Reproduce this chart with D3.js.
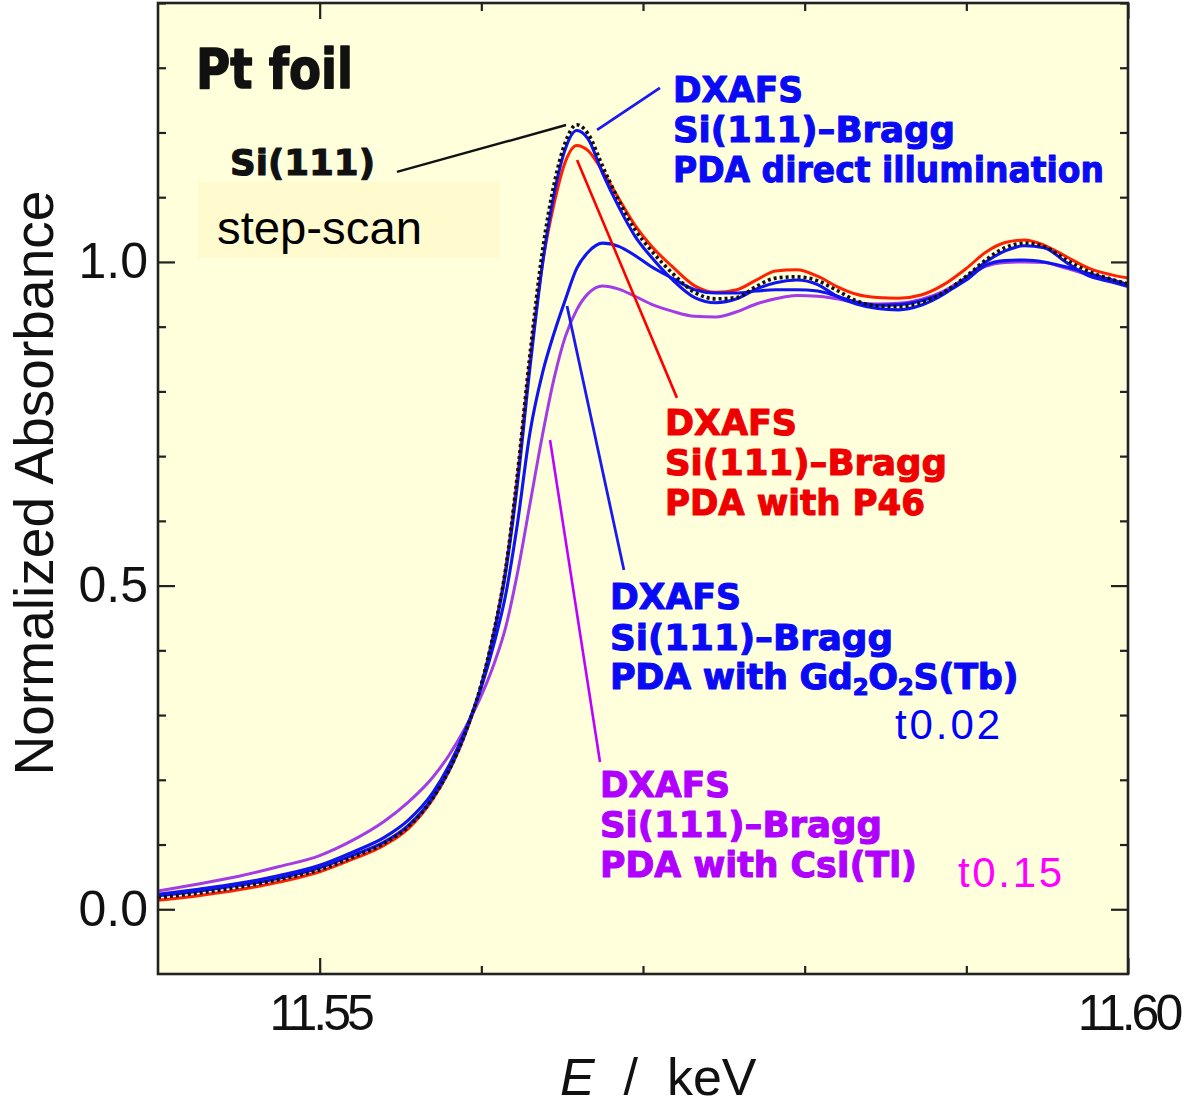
<!DOCTYPE html>
<html>
<head>
<meta charset="utf-8">
<script src="https://cdn.jsdelivr.net/npm/d3@7"></script>
<style>
  body { margin: 0; background: #fff; }
  svg { display: block; }
</style>
</head>
<body>
<svg id="chart" width="1191" height="1111"></svg>
<script>
// Photon energy grid (keV)
const energy = [11.5400, 11.5425, 11.5450, 11.5475, 11.5500, 11.5520, 11.5540, 11.5555,
  11.5570, 11.5580, 11.5590, 11.5600, 11.5608, 11.5615, 11.5622, 11.5630, 11.5638, 11.5645,
  11.5652, 11.5659, 11.5666, 11.5675, 11.5685, 11.5695, 11.5705, 11.5718, 11.5732, 11.5745,
  11.5758, 11.5770, 11.5782, 11.5795, 11.5808, 11.5820, 11.5832, 11.5845, 11.5858, 11.5872,
  11.5886, 11.5900, 11.5912, 11.5924, 11.5936, 11.5948, 11.5962, 11.5976, 11.5990, 11.6000];

// Normalized absorbance, Pt L3 edge
const stepScan = [0.018, 0.025, 0.034, 0.046, 0.061, 0.080, 0.102, 0.128, 0.172, 0.215, 0.272, 0.348,
  0.432, 0.525, 0.665, 0.855, 1.020, 1.120, 1.185, 1.212, 1.198, 1.148, 1.095, 1.050, 1.018, 0.983,
  0.953, 0.943, 0.945, 0.962, 0.975, 0.977, 0.971, 0.956, 0.940, 0.932, 0.931, 0.937, 0.953, 0.978,
  1.003, 1.022, 1.029, 1.024, 1.003, 0.985, 0.973, 0.966];

const dxafsDirect = [0.021, 0.028, 0.037, 0.048, 0.064, 0.083, 0.104, 0.130, 0.173, 0.215, 0.272, 0.346,
  0.428, 0.520, 0.650, 0.835, 1.000, 1.105, 1.175, 1.203, 1.190, 1.137, 1.085, 1.040, 1.008, 0.973,
  0.945, 0.937, 0.943, 0.958, 0.968, 0.972, 0.965, 0.947, 0.935, 0.928, 0.926, 0.933, 0.950, 0.976,
  1.000, 1.017, 1.025, 1.022, 0.999, 0.978, 0.969, 0.962];

const dxafsP46 = [0.014, 0.021, 0.030, 0.042, 0.058, 0.077, 0.099, 0.125, 0.170, 0.213, 0.270, 0.346,
  0.430, 0.525, 0.660, 0.845, 1.000, 1.090, 1.155, 1.180, 1.172, 1.140, 1.098, 1.057, 1.025, 0.993,
  0.963, 0.953, 0.957, 0.972, 0.986, 0.988, 0.978, 0.962, 0.950, 0.945, 0.944, 0.949, 0.965, 0.990,
  1.015, 1.030, 1.034, 1.026, 1.008, 0.990, 0.980, 0.975];

const dxafsGd = [0.023, 0.031, 0.040, 0.052, 0.068, 0.088, 0.111, 0.138, 0.180, 0.222, 0.276, 0.343,
  0.412, 0.485, 0.590, 0.735, 0.830, 0.890, 0.942, 0.990, 1.015, 1.029, 1.024, 1.010, 0.993, 0.975,
  0.957, 0.952, 0.952, 0.955, 0.957, 0.957, 0.955, 0.947, 0.938, 0.933, 0.934, 0.940, 0.952, 0.972,
  0.995, 1.002, 1.003, 1.000, 0.992, 0.982, 0.972, 0.965];

const dxafsCsI = [0.028, 0.039, 0.051, 0.066, 0.083, 0.106, 0.136, 0.166, 0.204, 0.238, 0.280, 0.330,
  0.380, 0.435, 0.515, 0.625, 0.735, 0.820, 0.885, 0.926, 0.951, 0.963, 0.958, 0.947, 0.935, 0.924,
  0.916, 0.915, 0.923, 0.935, 0.943, 0.948, 0.947, 0.943, 0.937, 0.935, 0.936, 0.942, 0.955, 0.976,
  0.993, 0.999, 1.000, 0.999, 0.990, 0.980, 0.972, 0.965];

// Ticks
const xMajorTicks = [11.55, 11.60];
const xTickLabels = ["11.55", "11.60"];
const xMinorTicks = [11.56, 11.57, 11.58, 11.59];
const yMajorTicks = [0.0, 0.5, 1.0];
const yTickLabels = ["0.0", "0.5", "1.0"];
const yMinorTicks = [0.1, 0.2, 0.3, 0.4, 0.6, 0.7, 0.8, 0.9, 1.1, 1.2, 1.3, 1.4];

// Leader lines from labels to curves: [[E, A], [E, A]]
const leaderSi = [[11.55478, 1.139], [11.56524, 1.2115]];
const leaderDirect = [[11.56716, 1.204], [11.57105, 1.269]];
const leaderP46 = [[11.56592, 1.1575], [11.57210, 0.790]];
const leaderGd = [[11.56530, 0.932], [11.56882, 0.524]];
const leaderCsI = [[11.56425, 0.725], [11.56734, 0.2275]];

const svg = d3.select("#chart");
const plot = { left: 158, right: 1128, top: 3, bottom: 974 };

const x = d3.scaleLinear().domain([11.54, 11.60]).range([plot.left, plot.right]);
const y = d3.scaleLinear().domain([-0.1, 1.4]).range([plot.bottom, plot.top]);

svg.append("rect").attr("width", 1191).attr("height", 1111).attr("fill", "#fff");
svg.append("rect")
  .attr("x", plot.left).attr("y", plot.top)
  .attr("width", plot.right - plot.left).attr("height", plot.bottom - plot.top)
  .attr("fill", "#FFFFDC");

svg.append("defs").append("clipPath").attr("id", "plotClip")
  .append("rect")
  .attr("x", plot.left).attr("y", plot.top)
  .attr("width", plot.right - plot.left).attr("height", plot.bottom - plot.top);

// Axes: inward ticks on all four sides
function addAxis(gen, transform, fontSize) {
  const g = svg.append("g").attr("transform", transform).call(gen);
  g.select(".domain").remove();
  g.selectAll(".tick line").attr("stroke", "#222").attr("stroke-width", 2.2);
  g.attr("font-family", "'Liberation Sans', Arial, sans-serif").attr("font-size", fontSize || 10);
  g.selectAll(".tick text").attr("fill", "#111");
  return g;
}

addAxis(d3.axisBottom(x).tickValues(xMinorTicks).tickSize(-8).tickFormat(""), `translate(0,${plot.bottom})`);
const xb = addAxis(d3.axisBottom(x).tickValues(xMajorTicks).tickSize(-16).tickPadding(20)
  .tickFormat((d, i) => xTickLabels[i]), `translate(0,${plot.bottom})`, 50);
xb.selectAll(".tick text").attr("letter-spacing", "-4px");
addAxis(d3.axisTop(x).tickValues(xMinorTicks).tickSize(-8).tickFormat(""), `translate(0,${plot.top})`);
addAxis(d3.axisTop(x).tickValues(xMajorTicks).tickSize(-16).tickFormat(""), `translate(0,${plot.top})`);

addAxis(d3.axisLeft(y).tickValues(yMinorTicks).tickSize(-8).tickFormat(""), `translate(${plot.left},0)`);
addAxis(d3.axisLeft(y).tickValues(yMajorTicks).tickSize(-17).tickPadding(10)
  .tickFormat((d, i) => yTickLabels[i]), `translate(${plot.left},0)`, 50);
addAxis(d3.axisRight(y).tickValues(yMinorTicks).tickSize(-8).tickFormat(""), `translate(${plot.right},0)`);
addAxis(d3.axisRight(y).tickValues(yMajorTicks).tickSize(-17).tickFormat(""), `translate(${plot.right},0)`);

// Spectra
const line = d3.line()
  .x((d, i) => x(energy[i]))
  .y(d => y(d))
  .curve(d3.curveMonotoneX);

const curves = svg.append("g").attr("clip-path", "url(#plotClip)");
const series = [
  { values: dxafsCsI, color: "#A33CE6", width: 3 },
  { values: dxafsP46, color: "#FF2200", width: 3 },
  { values: dxafsGd, color: "#0F14F0", width: 3.1 },
  { values: dxafsDirect, color: "#0F14F0", width: 3.1 },
  { values: stepScan, color: "#111", width: 3.6, dash: "3,3" }
];
series.forEach(s => {
  curves.append("path")
    .attr("d", line(s.values))
    .attr("fill", "none")
    .attr("stroke", s.color)
    .attr("stroke-width", s.width)
    .attr("stroke-linejoin", "round")
    .attr("stroke-dasharray", s.dash || null);
});

// Leader lines
const leaders = [
  { pts: leaderSi, color: "#111", width: 2.4 },
  { pts: leaderDirect, color: "#1A1AF0", width: 2.8 },
  { pts: leaderP46, color: "#FF0000", width: 2.6 },
  { pts: leaderGd, color: "#1A1AF0", width: 2.8 },
  { pts: leaderCsI, color: "#C000FF", width: 2.6 }
];
leaders.forEach(l => {
  svg.append("line")
    .attr("x1", x(l.pts[0][0])).attr("y1", y(l.pts[0][1]))
    .attr("x2", x(l.pts[1][0])).attr("y2", y(l.pts[1][1]))
    .attr("stroke", l.color).attr("stroke-width", l.width);
});

// Frame
svg.append("rect")
  .attr("x", plot.left).attr("y", plot.top)
  .attr("width", plot.right - plot.left).attr("height", plot.bottom - plot.top)
  .attr("fill", "none").attr("stroke", "#222").attr("stroke-width", 2.6);

// Text helpers
const boldFont = "'DejaVu Sans', Verdana, sans-serif";
const plainFont = "'Liberation Sans', Arial, sans-serif";

function boldText(t, x0, yb, color, size, width) {
  return svg.append("text")
    .attr("x", x0).attr("y", yb)
    .attr("fill", color)
    .attr("stroke", color).attr("stroke-width", 1.1).attr("stroke-linejoin", "round")
    .attr("font-family", boldFont).attr("font-weight", "bold")
    .attr("font-size", size)
    .attr("textLength", width).attr("lengthAdjust", "spacingAndGlyphs")
    .text(t);
}

function block(lines, x0, baselines, widths, color) {
  lines.forEach((t, i) => boldText(t, x0, baselines[i], color, 36, widths[i]));
}

boldText("Pt foil", 196, 88, "#111", 56, 157).attr("stroke-width", 1.6);
boldText("Si(111)", 230, 175, "#111", 35, 145);

// step-scan box sits over the lower edge of the Si(111) label
svg.append("rect").attr("x", 198).attr("y", 182).attr("width", 302).attr("height", 76)
  .attr("fill", "#FFFBCE");
svg.append("text").attr("x", 217).attr("y", 244)
  .attr("font-family", plainFont).attr("font-size", 47).attr("fill", "#000")
  .attr("textLength", 205).attr("lengthAdjust", "spacingAndGlyphs")
  .text("step-scan");

block(["DXAFS", "Si(111)–Bragg", "PDA direct illumination"], 673, [102, 142, 182],
  [130, 282, 431], "#0A0AF5");
block(["DXAFS", "Si(111)–Bragg", "PDA with P46"], 665, [435, 475, 515],
  [132, 282, 260], "#EE0000");
block(["DXAFS", "Si(111)–Bragg"], 610, [609, 650], [131, 283], "#0A0AF5");

// Line with subscripts, set at its natural width
const gdLine = svg.append("text")
  .attr("x", 610).attr("y", 689)
  .attr("fill", "#0A0AF5")
  .attr("stroke", "#0A0AF5").attr("stroke-width", 1.1).attr("stroke-linejoin", "round")
  .attr("font-family", boldFont).attr("font-weight", "bold")
  .attr("font-size", 35)
  .attr("letter-spacing", "-0.3px");
gdLine.append("tspan").text("PDA with Gd");
gdLine.append("tspan").attr("font-size", 23).attr("dy", 6).text("2");
gdLine.append("tspan").attr("dy", -6).text("O");
gdLine.append("tspan").attr("font-size", 23).attr("dy", 6).text("2");
gdLine.append("tspan").attr("dy", -6).text("S(Tb)");

block(["DXAFS", "Si(111)–Bragg", "PDA with CsI(Tl)"], 600, [797, 837, 877],
  [130, 282, 317], "#B000FF");

svg.append("text").attr("x", 895).attr("y", 739)
  .attr("font-family", plainFont).attr("font-size", 42).attr("fill", "#0000FF")
  .attr("textLength", 105).attr("lengthAdjust", "spacing")
  .text("t0.02");
svg.append("text").attr("x", 958).attr("y", 887)
  .attr("font-family", plainFont).attr("font-size", 42).attr("fill", "#FF00FF")
  .attr("textLength", 104).attr("lengthAdjust", "spacing")
  .text("t0.15");

// Axis titles
svg.append("text")
  .attr("transform", "translate(53,483) rotate(-90)")
  .attr("text-anchor", "middle")
  .attr("font-family", plainFont).attr("font-size", 56).attr("fill", "#111")
  .attr("textLength", 585).attr("lengthAdjust", "spacingAndGlyphs")
  .text("Normalized Absorbance");

const xt = svg.append("text")
  .attr("x", 560).attr("y", 1095)
  .attr("font-family", plainFont).attr("font-size", 52).attr("fill", "#111");
xt.append("tspan").attr("font-style", "italic").text("E");
xt.append("tspan").text("\u00a0\u00a0/\u00a0\u00a0keV");
</script>
</body>
</html>
